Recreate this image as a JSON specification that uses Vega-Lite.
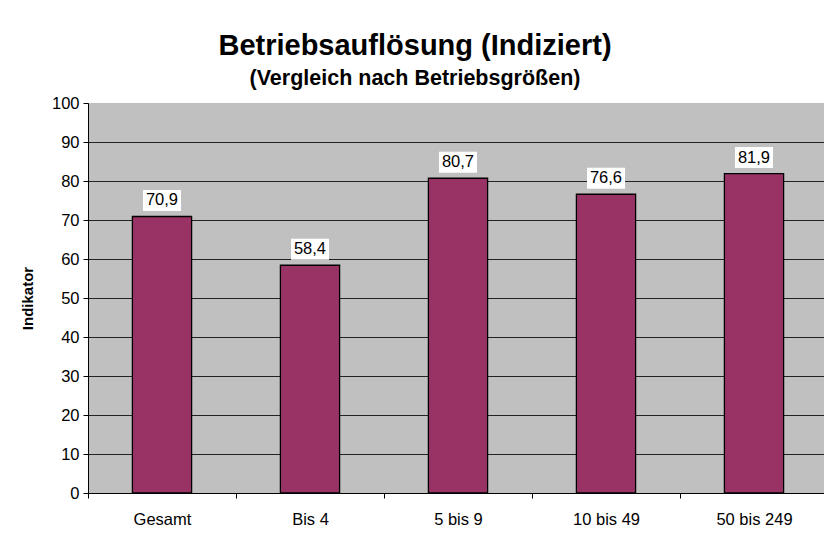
{
  "$schema": "https://vega.github.io/schema/vega-lite/v6.json",
  "width": 740,
  "height": 390,
  "autosize": {"type": "none"},
  "padding": {"left": 88, "top": 103, "right": 0, "bottom": 51},
  "background": "white",
  "config": {
    "font": "Liberation Sans",
    "view": {"fill": "#C0C0C0", "stroke": null},
    "locale": {"number": {"decimal": ",", "thousands": ".", "grouping": [3], "currency": ["", " €"]}}
  },
  "title": {
    "text": "Betriebsauflösung (Indiziert)",
    "subtitle": "(Vergleich nach Betriebsgrößen)",
    "anchor": "middle",
    "dx": -43,
    "offset": 6,
    "fontSize": 29,
    "fontWeight": "bold",
    "color": "black",
    "subtitleFontSize": 21.5,
    "subtitleFontWeight": "bold",
    "subtitleColor": "black",
    "subtitlePadding": 7
  },
  "data": {
    "values": [
      {"kategorie": "Gesamt", "wert": 70.9},
      {"kategorie": "Bis 4", "wert": 58.4},
      {"kategorie": "5 bis 9", "wert": 80.7},
      {"kategorie": "10 bis 49", "wert": 76.6},
      {"kategorie": "50 bis 249", "wert": 81.9}
    ]
  },
  "encoding": {
    "x": {
      "field": "kategorie",
      "type": "nominal",
      "sort": null,
      "scale": {"paddingInner": 0, "paddingOuter": 0},
      "axis": {
        "title": null,
        "labelAngle": 0,
        "labelFontSize": 16.5,
        "labelColor": "black",
        "labelPadding": 13,
        "tickBand": "extent",
        "tickSize": 5,
        "tickColor": "black",
        "domainColor": "black",
        "grid": false
      }
    },
    "y": {
      "field": "wert",
      "type": "quantitative",
      "scale": {"domain": [0, 100], "nice": false},
      "axis": {
        "title": "Indikator",
        "titleFontSize": 15,
        "titleFontWeight": "bold",
        "titleColor": "black",
        "titleX": -61,
        "titleY": 195,
        "titleAngle": -90,
        "titleBaseline": "middle",
        "titleAlign": "center",
        "values": [0, 10, 20, 30, 40, 50, 60, 70, 80, 90, 100],
        "labelFontSize": 16.5,
        "labelColor": "black",
        "labelPadding": 4,
        "tickSize": 5,
        "tickColor": "black",
        "domainColor": "black",
        "grid": true,
        "gridColor": {"condition": {"test": "datum.value === 100", "value": "transparent"}, "value": "#222222"},
        "gridOpacity": 1
      }
    }
  },
  "layer": [
    {
      "mark": {"type": "bar", "width": {"band": 0.4}, "fill": "#993366", "stroke": "black", "strokeWidth": 1.3}
    },
    {
      "mark": {"type": "tick", "color": "white", "size": 38, "thickness": 21, "yOffset": -16, "opacity": 1}
    },
    {
      "mark": {"type": "text", "dy": -16, "baseline": "middle", "fontSize": 16.5, "color": "black"},
      "encoding": {"text": {"field": "wert", "type": "quantitative", "format": ".1f"}}
    }
  ]
}
